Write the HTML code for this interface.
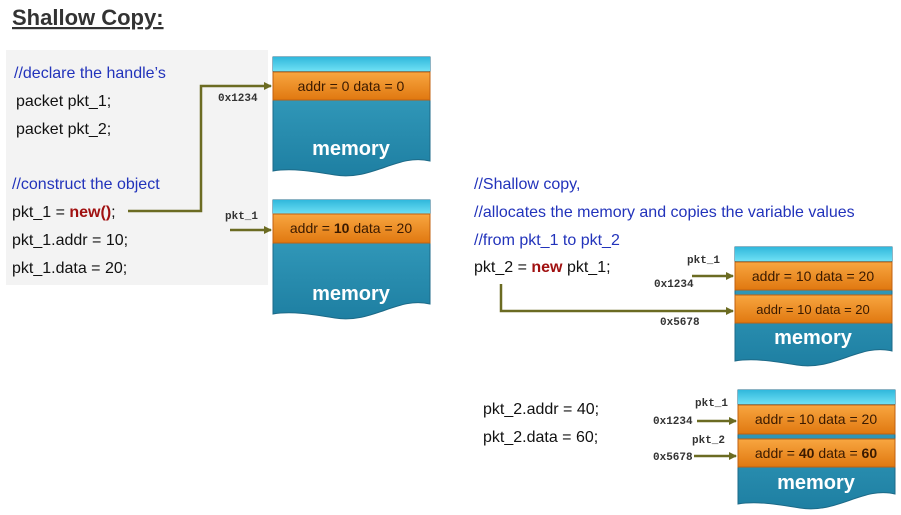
<!DOCTYPE html>
<html><head><meta charset="utf-8"><style>
body{margin:0;background:#fff;}
svg{display:block;}
.c{font-family:"Liberation Sans",sans-serif;font-size:16px;fill:#111;}
.b{fill:#2233bb;}
.m{font-family:"Liberation Mono",monospace;font-size:11px;font-weight:bold;fill:#333;}
.o{font-family:"Liberation Sans",sans-serif;font-size:14px;fill:#3a1a00;text-anchor:middle;}
.mem{font-family:"Liberation Sans",sans-serif;font-size:20px;font-weight:bold;fill:#fff;text-anchor:middle;}
</style></head><body>
<svg width="901" height="515" viewBox="0 0 901 515">
<defs>
<linearGradient id="or" x1="0" y1="0" x2="0" y2="1"><stop offset="0" stop-color="#f8a640"/><stop offset="1" stop-color="#e07810"/></linearGradient>
<linearGradient id="tl" x1="0" y1="0" x2="0" y2="1"><stop offset="0" stop-color="#3aa4c4"/><stop offset="1" stop-color="#1e7fa2"/></linearGradient>
<linearGradient id="cy" x1="0" y1="0" x2="0" y2="1"><stop offset="0" stop-color="#30b8dc"/><stop offset="1" stop-color="#6ee0f4"/></linearGradient>
<marker id="ar" markerWidth="8" markerHeight="8" refX="7" refY="4" orient="auto" markerUnits="userSpaceOnUse"><path d="M0,0 L8,4 L0,8 Z" fill="#6b6b22"/></marker>
<g id="box">
<path d="M0,0 H157 V104 C125,96 100,124 62,118 C38,114 18,111 0,114 Z" fill="url(#tl)" stroke="#1c6a88" stroke-width="1"/>
<rect x="0" y="0" width="157" height="14" fill="url(#cy)"/>
</g>
</defs>
<rect x="6" y="50" width="262" height="235" fill="#f3f3f3"/>
<text x="12" y="25" style="font-family:'Liberation Sans',sans-serif;font-size:22px;font-weight:bold;fill:#333;text-decoration:underline">Shallow Copy:</text>
<text x="14" y="78" class="c b">//declare the handle’s</text>
<text x="16" y="106" class="c">packet pkt_1;</text>
<text x="16" y="134" class="c">packet pkt_2;</text>
<text x="12" y="189" class="c b">//construct the object</text>
<text x="12" y="217" class="c">pkt_1 = <tspan style="fill:#a01010;font-weight:bold">new()</tspan>;</text>
<text x="12" y="245" class="c">pkt_1.addr = 10;</text>
<text x="12" y="273" class="c">pkt_1.data = 20;</text>

<text x="474" y="189" class="c b">//Shallow copy,</text>
<text x="474" y="217" class="c b">//allocates the memory and copies the variable values</text>
<text x="474" y="245" class="c b">//from pkt_1 to pkt_2</text>
<text x="474" y="272" class="c">pkt_2 = <tspan style="fill:#a01010;font-weight:bold">new</tspan> pkt_1;</text>
<text x="483" y="414" class="c">pkt_2.addr = 40;</text>
<text x="483" y="442" class="c">pkt_2.data = 60;</text>

<g transform="translate(273,57)"><use href="#box"/><rect x="0" y="15" width="157" height="28" fill="url(#or)" stroke="#c06010"/><text x="78" y="34" class="o">addr = 0  data = 0</text><text x="78" y="98" class="mem">memory</text></g>
<g transform="translate(273,200)"><use href="#box"/><rect x="0" y="14" width="157" height="29" fill="url(#or)" stroke="#c06010"/><text x="78" y="33" class="o">addr = <tspan font-weight="bold">10</tspan>  data = 20</text><text x="78" y="100" class="mem">memory</text></g>
<g transform="translate(735,247)"><use href="#box"/><rect x="0" y="15" width="157" height="28" fill="url(#or)" stroke="#c06010"/><text x="78" y="34" class="o">addr = 10  data = 20</text><rect x="0" y="48" width="157" height="28" fill="url(#or)" stroke="#c06010"/><text x="78" y="67" class="o" style="font-size:13px">addr = 10  data = 20</text><text x="78" y="97" class="mem">memory</text></g>
<g transform="translate(738,390)"><use href="#box"/><rect x="0" y="15" width="157" height="29" fill="url(#or)" stroke="#c06010"/><text x="78" y="34" class="o">addr = 10  data = 20</text><rect x="0" y="49" width="157" height="28" fill="url(#or)" stroke="#c06010"/><text x="78" y="68" class="o">addr = <tspan font-weight="bold">40</tspan>  data = <tspan font-weight="bold">60</tspan></text><text x="78" y="99" class="mem">memory</text></g>

<g stroke="#6b6b22" stroke-width="2.5" fill="none">
<polyline points="128,211 201,211 201,86 271,86" marker-end="url(#ar)"/>
<line x1="230" y1="230" x2="271" y2="230" marker-end="url(#ar)"/>
<line x1="692" y1="276" x2="733" y2="276" marker-end="url(#ar)"/>
<polyline points="501,284 501,311 733,311" marker-end="url(#ar)"/>
<line x1="697" y1="421" x2="736" y2="421" marker-end="url(#ar)"/>
<line x1="694" y1="456" x2="736" y2="456" marker-end="url(#ar)"/>
</g>
<text x="218" y="101" class="m">0x1234</text>
<text x="225" y="219" class="m">pkt_1</text>
<text x="687" y="263" class="m">pkt_1</text>
<text x="654" y="287" class="m">0x1234</text>
<text x="660" y="325" class="m">0x5678</text>
<text x="695" y="406" class="m">pkt_1</text>
<text x="653" y="424" class="m">0x1234</text>
<text x="692" y="443" class="m">pkt_2</text>
<text x="653" y="460" class="m">0x5678</text>
</svg>
</body></html>
